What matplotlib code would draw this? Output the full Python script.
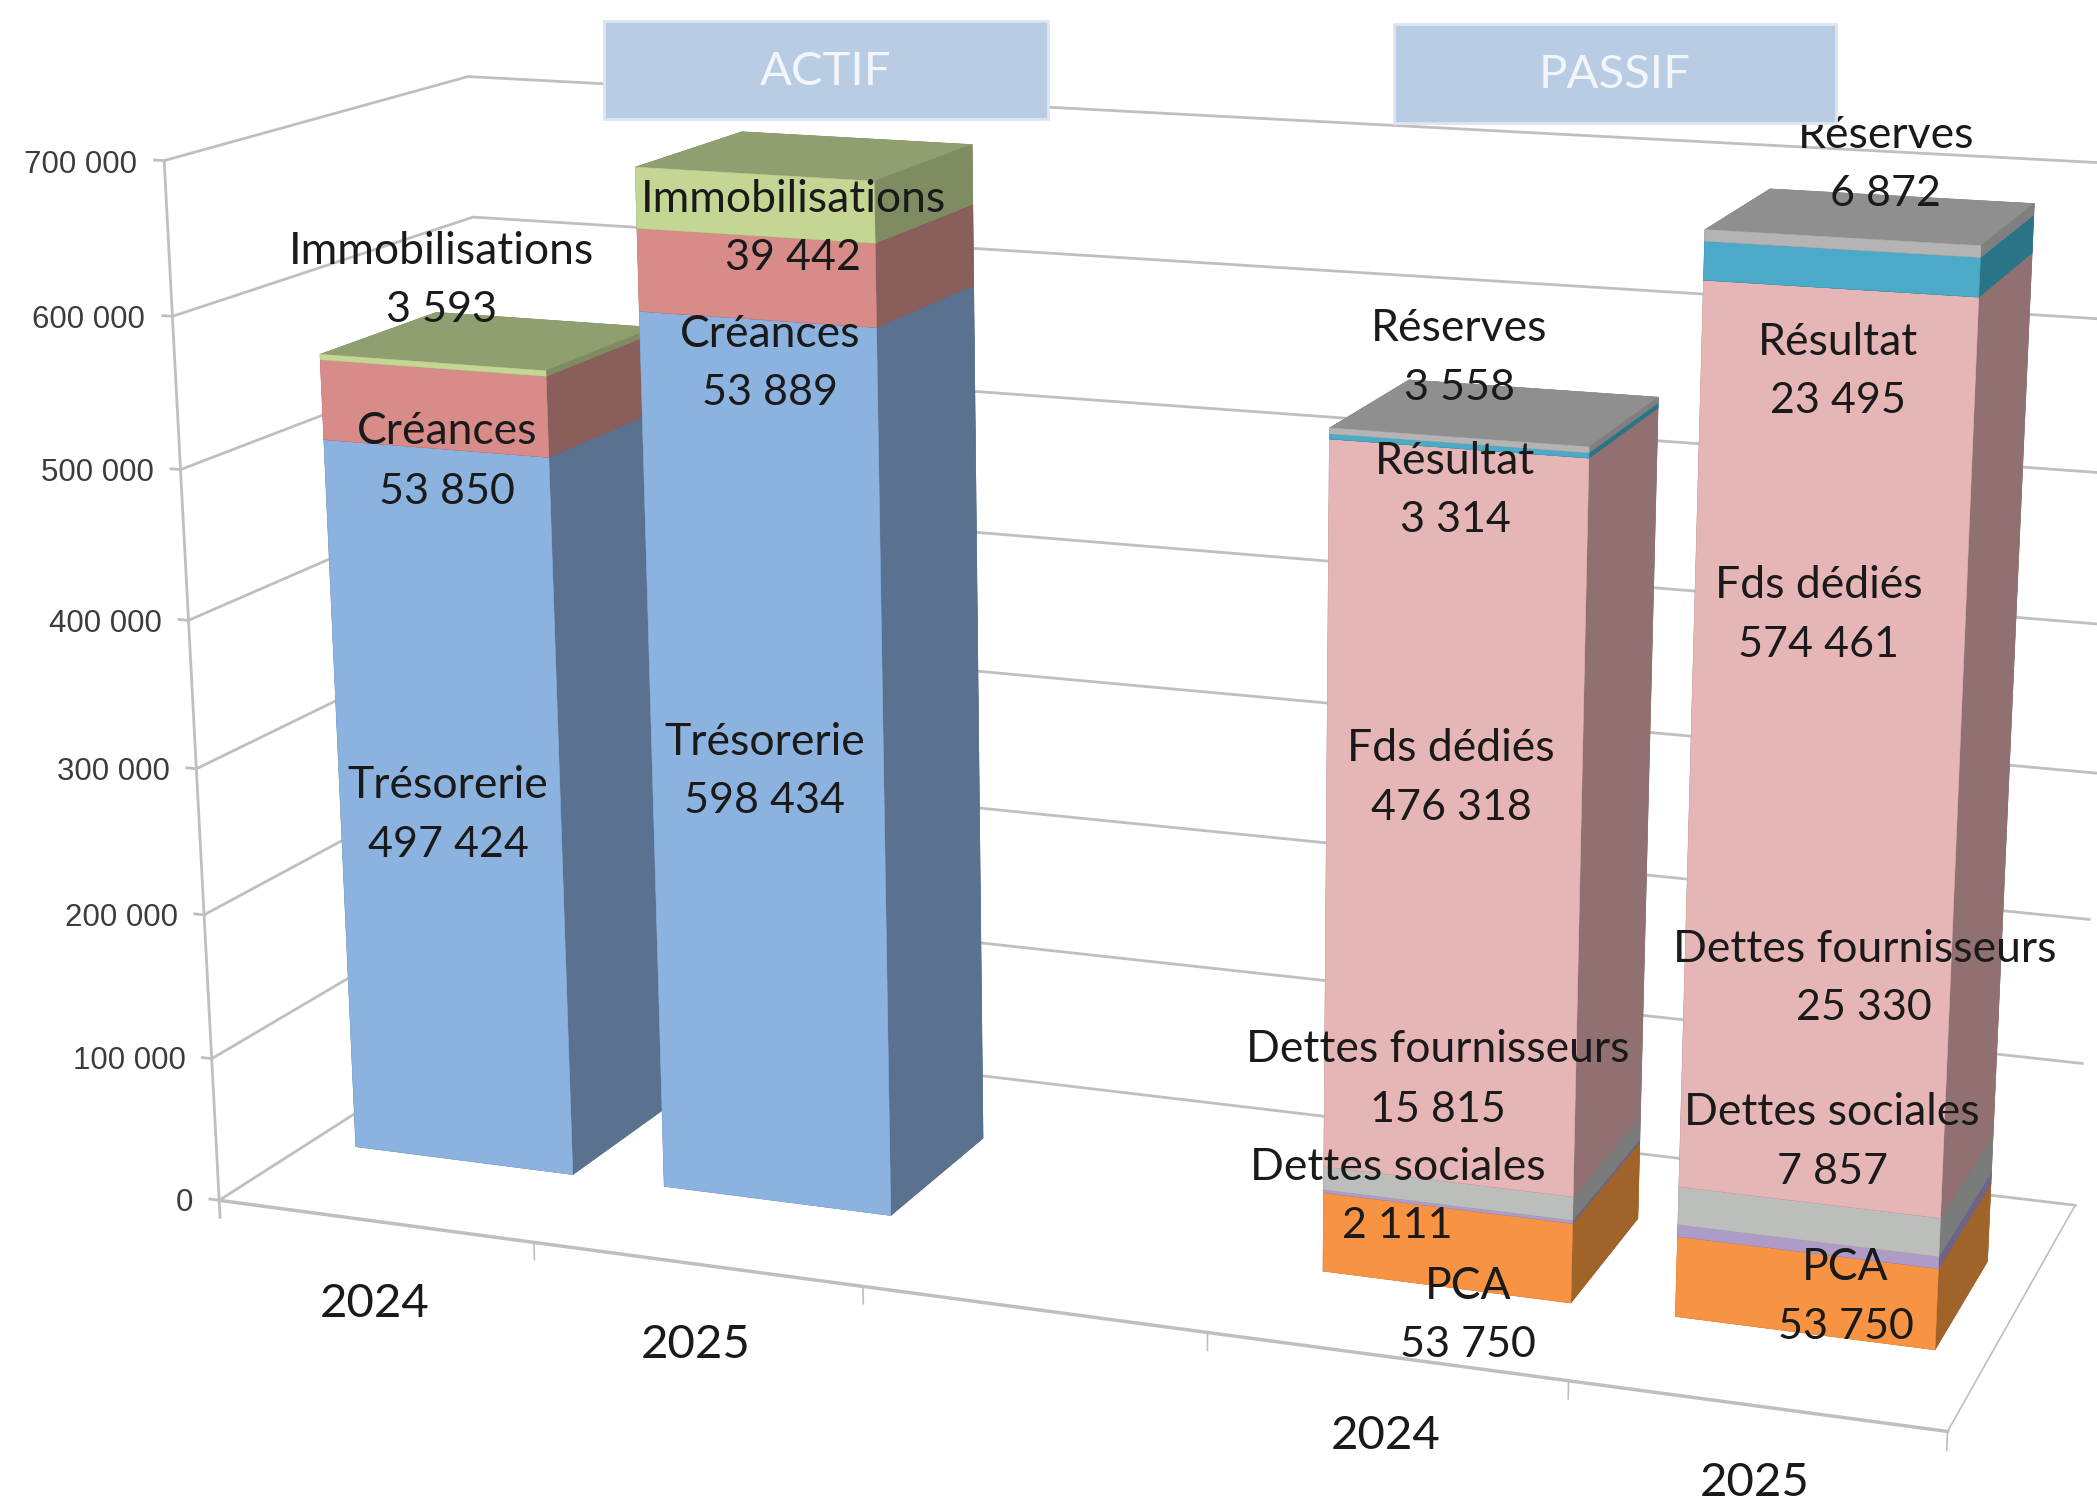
import numpy as np
import matplotlib
matplotlib.use("Agg")
import matplotlib.pyplot as plt
from matplotlib.patches import Rectangle
from mpl_toolkits.mplot3d import proj3d

W, H = 2097, 1505
S = W / 1568  # label positions below were read on the 1568 wide view
K = 1 / 4000  # mplot3d masks line points outside -1..1, so keep the image well inside

# data
ticks = [0, 100000, 200000, 300000, 400000, 500000, 600000, 700000]
tick_labels = ["0", "100 000", "200 000", "300 000", "400 000", "500 000", "600 000", "700 000"]
slots = [0, 1, 3, 4]
years = ["2024", "2025", "2024", "2025"]

actif_names = ["Trésorerie", "Créances", "Immobilisations"]
actif_2024 = [497424, 53850, 3593]
actif_2025 = [598434, 53889, 39442]
passif_names = ["PCA", "Dettes sociales", "Dettes fournisseurs", "Fds dédiés", "Résultat", "Réserves"]
passif_2024 = [53750, 2111, 15815, 476318, 3314, 3558]
passif_2025 = [53750, 7857, 25330, 574461, 23495, 6872]

# front, side, top
actif_colors = [("#8CB2E0", "#5A7190", "#5A7190"),
                ("#D78C8A", "#8A5E5A", "#8A5E5A"),
                ("#C5D593", "#7F8C62", "#8F9F70")]
passif_colors = [("#F79343", "#A0632A", "#A0632A"),
                 ("#AE9BC8", "#6E6488", "#6E6488"),
                 ("#BCBEBC", "#7A7C7C", "#7A7C7C"),
                 ("#E6B5B5", "#907070", "#907070"),
                 ("#4AAAC8", "#2A7488", "#2A7488"),
                 ("#B5B3B3", "#7F7F7F", "#8F8F8F")]

# label centres, name line then value line
actif_2024_pos = [(335, 584, 629), (334, 320, 365), (330, 185, 229)]
actif_2025_pos = [(572, 552, 596), (576, 247, 291), (593, 146, 190)]
passif_2024_pos = [(1098, 959, 1003), (1045, 870, 914), (1075, 782, 827),
                   (1085, 557, 601), (1088, 342, 386), (1091, 243, 287)]
passif_2025_pos = [(1380, 945, 989), (1370, 829, 873), (1394, 707, 751),
                   (1360, 435, 479), (1374, 253, 297), (1410, 98, 142)]
year_pos = [(280, 972), (520, 1003), (1036, 1071), (1312, 1106)]

# camera: chart box corners (slot, depth, z / 100000) and where they land on the image
world_pts = [(0, 0, 0), (0, 0, 1), (0, 0, 2), (0, 0, 5), (0, 0, 6), (0, 0, 7),
             (0, 1, 7), (0, 1, 6), (0, 1, 0),
             (1, 0, 0), (4, 0, 0), (5, 0, 0), (5, 1, 0), (5, 1, 7)]
image_pts = [(219, 1201), (210, 1058), (203, 914), (181, 468), (173, 315), (166, 162),
             (467, 77), (471, 218), (505, 1018),
             (535, 1245), (1568, 1381), (1947, 1431), (2075, 1205), (2127, 164)]

rows, rhs = [], []
for (a, b, c), (u, v) in zip(world_pts, image_pts):
    v = H - v
    rows.append([a, b, c, 1, 0, 0, 0, 0, -u * a, -u * b, -u * c])
    rows.append([0, 0, 0, 0, a, b, c, 1, -v * a, -v * b, -v * c])
    rhs += [u, v]
p = np.linalg.lstsq(np.array(rows, float), np.array(rhs, float), rcond=None)[0]
w_row = np.array([p[8], p[9], p[10] / 1e5, 1.0])
# depth stays negative or mplot3d masks the lines
depth_row = -0.5 * w_row + 0.1 * np.array([-0.1, 1.0, -1e-6, 0.0])
M = np.array([[p[0] * K, p[1] * K, p[2] * K / 1e5, p[3] * K],
              [p[4] * K, p[5] * K, p[6] * K / 1e5, p[7] * K],
              depth_row,
              w_row])

fig = plt.figure(figsize=(W / 100, H / 100), dpi=100)
ax = fig.add_axes([0, 0, 1, 1], projection="3d", computed_zorder=False)
ax.get_proj = lambda: M
ax.apply_aspect = lambda position=None: None
ax.viewLim.intervalx = (0, W * K)
ax.viewLim.intervaly = (0, H * K)
ax.set_axis_off()

grid = "#BFBFBF"
top_z = ticks[-1]
for z, tick_label in zip(ticks, tick_labels):
    if z > 0:
        ax.plot([0, 0, 5], [0, 1, 1], [z, z, z], color=grid, lw=2, zorder=1)
    ax.plot([-0.03, 0], [0, 0], [z, z], color=grid, lw=2, zorder=1)
    tx, ty, _ = proj3d.proj_transform(-0.085, 0, z, M)
    ax.text2D(tx, ty - 6 * K, tick_label, transform=ax.transData, ha="right", va="center",
              fontsize=22.5, color="#3C3C3C", family="Liberation Sans", zorder=1)
ax.plot([0, 0, 5], [0, 1, 1], [0, 0, 0], color=grid, lw=2, zorder=1)
ax.plot([0, 0], [0, 0], [-12000, top_z], color=grid, lw=2, zorder=1)
ax.plot([0, 5], [0, 0], [0, 0], color=grid, lw=2.5, zorder=1)
ax.plot([5, 5], [0, 1], [0, 0], color=grid, lw=1.2, zorder=1)
for i in range(1, 6):
    ax.plot([i, i], [0, 0], [0, -12000], color=grid, lw=1.2, zorder=1)

bar_x = 0.146
bar_w = 0.708
bar_y = 0.305
bar_d = 0.395

order = 2
for slot, values, colors in [(slots[0], actif_2024, actif_colors),
                             (slots[1], actif_2025, actif_colors),
                             (slots[2], passif_2024, passif_colors),
                             (slots[3], passif_2025, passif_colors)]:
    bottom = 0
    for value, (front, side, top) in zip(values, colors):
        # bar3d face order: bottom, top, front, back, right, left
        faces = [side, top, front, side, side, side]
        ax.bar3d(slot + bar_x, bar_y, bottom, bar_w, bar_d, value,
                 color=faces, shade=False, edgecolor=faces, linewidth=0.4, zorder=order)
        bottom += value
        order += 1


def label(x, y, s, size=31, color="#1A1A1A", zorder=3):
    fig.text(x * S / W, 1 - (y + 3) * S / H, s, ha="center", va="center", fontsize=size,
             color=color, family="Lato", zorder=zorder)


for names, values, positions in [(actif_names, actif_2024, actif_2024_pos),
                                 (actif_names, actif_2025, actif_2025_pos),
                                 (passif_names, passif_2024, passif_2024_pos),
                                 (passif_names, passif_2025, passif_2025_pos)]:
    for name, value, (x, y1, y2) in zip(names, values, positions):
        label(x, y1, name, size=32)
        label(x, y2, f"{value:,}".replace(",", " "))

for year, (x, y) in zip(years, year_pos):
    label(x, y, year, size=34)

# title boxes sit above the labels
for x0, y0, x1, y1, title in [(604, 21, 1048, 119, "ACTIF"), (1394, 24, 1836, 123, "PASSIF")]:
    fig.add_artist(Rectangle((x0 / W, 1 - y1 / H), (x1 - x0) / W, (y1 - y0) / H,
                             transform=fig.transFigure, facecolor="#B8CCE4",
                             edgecolor="#DCE6F1", linewidth=2, zorder=5))
    fig.text((x0 + x1) / 2 / W, 1 - ((y0 + y1) / 2 + 2) / H, title, ha="center", va="center",
             fontsize=34, color="#F2F5FA", family="Lato", zorder=6)

fig.savefig("out.png", dpi=100)
